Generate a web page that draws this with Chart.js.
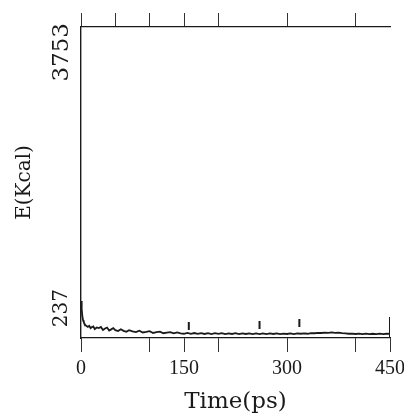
<!DOCTYPE html>
<html>
<head>
<meta charset="utf-8">
<script src="https://cdn.jsdelivr.net/npm/chart.js@4"></script>
<style>
  html, body { margin: 0; background: #fff; }
  #wrap { width: 404px; height: 416px; }
</style>
</head>
<body>
<div id="wrap"><canvas id="chart"></canvas></div>
<script>
// energy trace
const timePs = [0, 1, 2, 3, 4, 5, 6, 8, 10, 12, 14, 16, 18, 20, 23, 26, 29, 32, 35, 38, 41, 44, 47,
  50, 54, 58, 62, 66, 70, 75, 80, 85, 90, 95, 100, 105, 110, 115, 120, 125, 130, 135, 140, 145,
  150, 155, 160, 165, 170, 175, 180, 185, 190, 195, 200, 205, 210, 215, 220, 225, 230, 235, 240,
  245, 250, 255, 260, 265, 270, 275, 280, 285, 290, 295, 300, 305, 310, 315, 320, 325, 330, 335,
  340, 345, 350, 355, 360, 365, 370, 375, 380, 385, 390, 395, 400, 405, 410, 415, 420, 425, 430,
  435, 440, 445, 450];
const energy = [673, 562, 471, 418, 394, 375, 357, 344, 331, 346, 315, 328, 337, 302, 323, 315, 329, 290, 309, 322, 282, 298, 315,
  288, 275, 300, 278, 267, 288, 271, 261, 281, 257, 265, 275, 251, 261, 269, 247, 254, 261, 245, 257, 244,
  240, 252, 239, 250, 238, 249, 237, 248, 236, 247, 238, 248, 236, 246, 237, 247, 235, 245, 237,
  246, 235, 244, 236, 246, 235, 244, 237, 245, 235, 243, 237, 245, 236, 244, 240, 246, 240, 249,
  247, 253, 250, 256, 252, 257, 253, 255, 248, 245, 240, 243, 237, 242, 236, 241, 235, 240, 236,
  241, 235, 240, 238];

// small arrow marks above the trace
const markTimes = [157, 260, 318, 450];
const markEnergy = [343, 356, 382, 316];

const yTicks = [237, 3753];
const xTicks = [0, 100, 150, 200, 300, 400, 450];
const xLabels = [0, 150, 300, 450];
const topTicks = [0, 50, 100, 150, 200, 300, 400];

const ink = '#1a1a1a';

function noEdgePadding(s) {
    s.paddingLeft = 0;
    s.paddingRight = 0;
    s.paddingTop = 0;
    s.paddingBottom = 0;
}

const ctx = document.getElementById('chart').getContext('2d');
const chart = new Chart(ctx, {
    type: 'line',
    data: {
        datasets: [{
            data: timePs.map((t, i) => ({ x: t, y: energy[i] })),
            borderColor: ink,
            borderWidth: 1.8,
            pointRadius: 0,
            tension: 0
        }, {
            type: 'scatter',
            data: markTimes.map((t, i) => ({ x: t, y: markEnergy[i] })),
            showLine: false,
            pointStyle: 'line',
            rotation: 90,
            pointRadius: (c) => c.dataIndex === markTimes.length - 1 ? 11 : 4,
            borderColor: ink,
            borderWidth: 2
        }]
    },
    options: {
        responsive: true,
        maintainAspectRatio: false,
        animation: false,
        layout: { padding: { left: 0, right: 14, top: 0, bottom: 0 } },
        plugins: {
            legend: { display: false },
            tooltip: { enabled: false }
        },
        scales: {
            x: {
                type: 'linear',
                position: 'bottom',
                min: 0,
                max: 450,
                afterBuildTicks: (s) => { s.ticks = xTicks.map(v => ({ value: v })); },
                afterFit: (s) => { s.height = 78; noEdgePadding(s); },
                ticks: {
                    autoSkip: false,
                    maxRotation: 0,
                    padding: 5,
                    color: ink,
                    font: { family: 'Liberation Serif', size: 20 },
                    callback: (v) => xLabels.includes(v) ? String(v) : ''
                },
                grid: { drawOnChartArea: false, tickLength: 14, color: '#333' },
                border: { color: ink, width: 1.2 },
                title: {
                    display: true,
                    text: 'Time(ps)',
                    color: ink,
                    font: { family: 'DejaVu Serif', size: 23 },
                    padding: { top: 0, bottom: 0 }
                }
            },
            x2: {
                type: 'linear',
                position: 'top',
                min: 0,
                max: 450,
                afterBuildTicks: (s) => { s.ticks = topTicks.map(v => ({ value: v })); },
                afterFit: (s) => { s.height = 27; noEdgePadding(s); },
                ticks: { display: false },
                grid: { drawOnChartArea: false, tickLength: 14, color: '#333' },
                border: { color: ink, width: 1.2 }
            },
            y: {
                type: 'linear',
                min: 184,
                max: 4295,
                afterBuildTicks: (s) => { s.ticks = yTicks.map(v => ({ value: v })); },
                afterFit: (s) => { s.width = 81; noEdgePadding(s); },
                ticks: {
                    minRotation: 90,
                    maxRotation: 90,
                    labelOffset: -45,
                    padding: 19,
                    color: ink,
                    font: (c) => ({ family: 'DejaVu Serif', size: c.tick && c.tick.value > 1000 ? 23 : 20 }),
                    callback: (v) => String(v)
                },
                grid: { drawOnChartArea: false, drawTicks: false },
                border: { color: ink, width: 1.4 },
                title: {
                    display: true,
                    text: 'E(Kcal)',
                    color: ink,
                    font: { family: 'DejaVu Serif', size: 20 },
                    padding: { top: 13, bottom: 0 }
                }
            }
        }
    }
});
</script>
</body>
</html>
